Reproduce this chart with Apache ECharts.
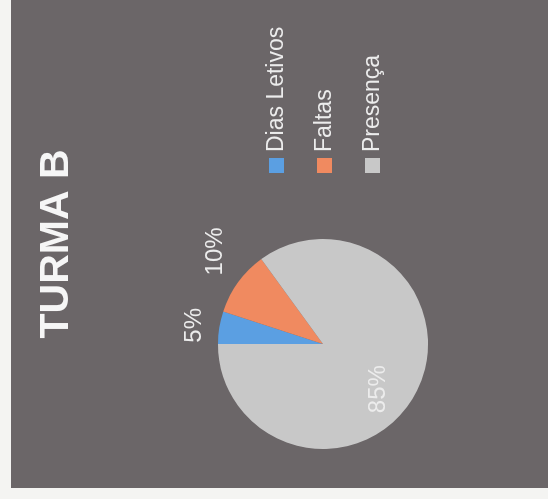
<!DOCTYPE html>
<html>
<head>
<meta charset="utf-8">
<script src="https://cdn.jsdelivr.net/npm/echarts@6/dist/echarts.min.js"></script>
<style>
  html, body { margin: 0; padding: 0; background: #f4f4f2; width: 548px; height: 499px; overflow: hidden; }
  #chart { position: absolute; left: 11px; top: 488px; width: 488px; height: 537px;
           transform-origin: 0 0; transform: rotate(-90deg); }
</style>
</head>
<body>
<div id="chart"></div>
<script>
const title = 'TURMA B';
const categories = ['Dias Letivos', 'Faltas', 'Presença'];
const values = [5, 10, 85];
const colors = ['#5b9fe2', '#f08a60', '#c8c8c8'];
const labelOffsets = [[10, -74], [60, -63], [-20, 6]];

const chart = echarts.init(document.getElementById('chart'));
chart.setOption({
  backgroundColor: '#6b6668',
  animation: false,
  title: {
    text: title, left: 'center', top: 20,
    textStyle: { color: '#f6f6f6', fontSize: 41, fontWeight: 'bold', fontFamily: 'Liberation Sans' }
  },
  legend: {
    orient: 'vertical', left: 310, top: 249,
    itemWidth: 15, itemHeight: 15, itemGap: 25,
    icon: 'rect',
    textStyle: { color: '#ececec', fontSize: 23, fontFamily: 'Liberation Sans', padding: [0, 0, 0, 1] },
    data: categories
  },
  series: [{
    type: 'pie',
    center: [144, 312],
    radius: 105,
    startAngle: 90,
    clockwise: true,
    itemStyle: { borderWidth: 0 },
    label: {
      show: true, position: 'inside', color: '#ececec', fontSize: 24, fontFamily: 'Liberation Sans',
      formatter: '{d}%'
    },
    labelLine: { show: false },
    data: categories.map((c, i) => ({
      name: c, value: values[i],
      itemStyle: { color: colors[i] },
      label: { offset: labelOffsets[i] }
    }))
  }]
});
</script>
</body>
</html>
